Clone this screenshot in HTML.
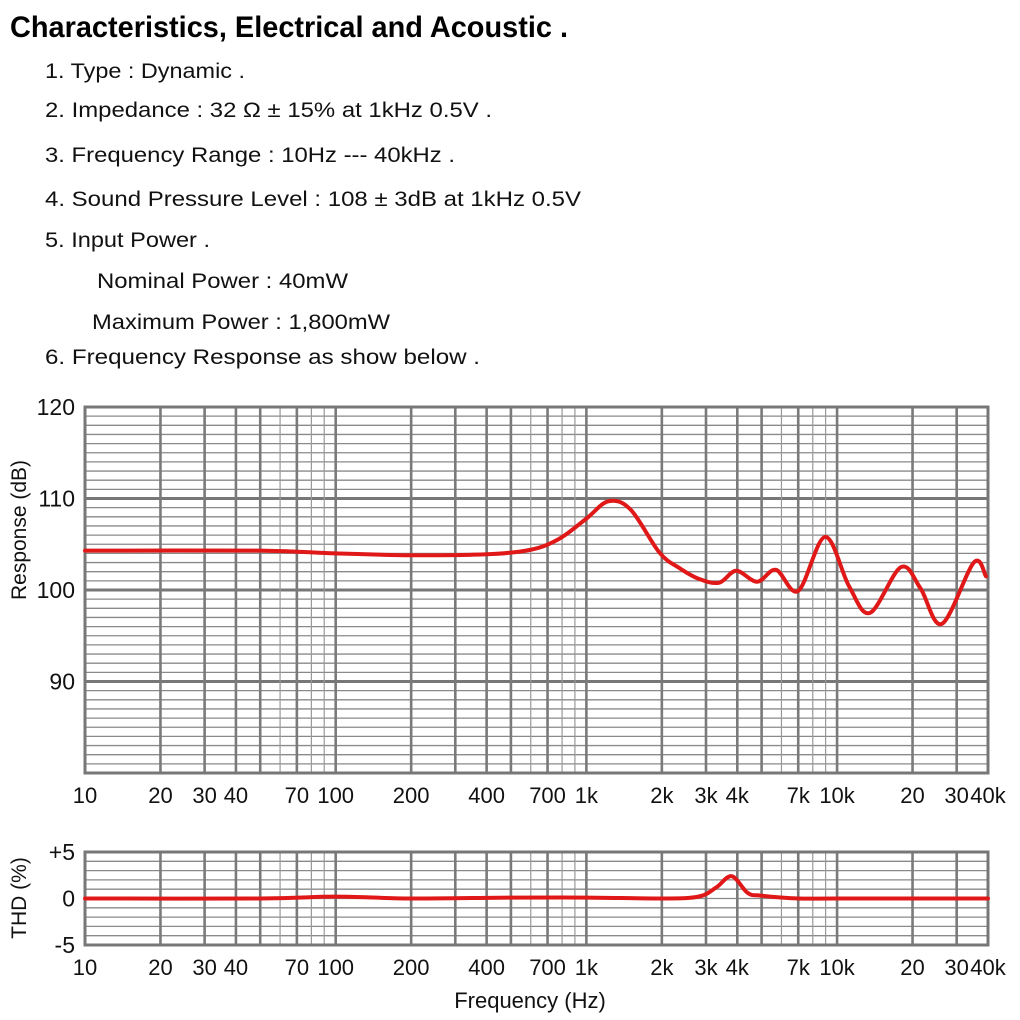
<!DOCTYPE html>
<html><head><meta charset="utf-8"><style>
body{margin:0;background:#fff;width:1020px;height:1020px;overflow:hidden;font-family:"Liberation Sans",sans-serif}
svg{position:absolute;left:0;top:0}
</style></head><body>
<svg id="c" width="1020" height="1020" xmlns="http://www.w3.org/2000/svg">
<text x="10" y="37" font-size="30" font-weight="bold" textLength="558" lengthAdjust="spacingAndGlyphs" fill="#000">Characteristics, Electrical and Acoustic .</text>
<g font-size="21" fill="#111">
<text x="45" y="78" textLength="200" lengthAdjust="spacingAndGlyphs">1. Type : Dynamic .</text>
<text x="45" y="117" textLength="447" lengthAdjust="spacingAndGlyphs">2. Impedance :  32 Ω ± 15% at 1kHz 0.5V .</text>
<text x="45" y="162" textLength="410" lengthAdjust="spacingAndGlyphs">3. Frequency Range : 10Hz --- 40kHz .</text>
<text x="45" y="206" textLength="536" lengthAdjust="spacingAndGlyphs">4. Sound Pressure Level :  108 ± 3dB at 1kHz 0.5V</text>
<text x="45" y="247" textLength="165" lengthAdjust="spacingAndGlyphs">5. Input Power .</text>
<text x="97" y="288" textLength="251" lengthAdjust="spacingAndGlyphs">Nominal Power : 40mW</text>
<text x="92" y="329" textLength="298" lengthAdjust="spacingAndGlyphs">Maximum Power : 1,800mW</text>
<text x="45" y="364" textLength="435" lengthAdjust="spacingAndGlyphs">6. Frequency Response as show below .</text>
</g>
<g id="main"></g>
<g id="thd"></g>
</svg>
<script>
const respFreq=[10,50,100,200,400,600,780,1000,1225,1500,1955,2350,2820,3390,3960,4800,5710,7000,8960,11170,13530,17980,21500,26200,35100,39260];
const respDb=[104.3,104.3,104.0,103.8,103.9,104.4,105.6,107.8,109.7,108.8,104.1,102.4,101.2,100.8,102.1,100.9,102.2,99.9,105.8,100.4,97.5,102.5,100.2,96.3,103.0,101.5];
const thdFreq=[10,50,100,200,500,1000,2000,2800,3300,3800,4400,5000,7000,10000,40000];
const thdPct=[0,0,0.2,0,0.1,0.1,0,0.2,1.2,2.4,0.6,0.3,0,0,0];
const xTickVals=[10,20,30,40,70,100,200,400,700,1000,2000,3000,4000,7000,10000,20000,30000,40000];
const xTickLabels=["10","20","30","40","70","100","200","400","700","1k","2k","3k","4k","7k","10k","20","30","40k"];
const respTicks=[120,110,100,90];
const thdTicks=[5,0,-5];
const thdTickLabels=["+5","0","-5"];

const NS="http://www.w3.org/2000/svg";
const X0=85,X1=988;
function xs(f){return X0+(Math.log10(f)-1)/(Math.log10(40000)-1)*(X1-X0);}
function mk(p,tag,a){const e=document.createElementNS(NS,tag);for(const k in a)e.setAttribute(k,a[k]);p.appendChild(e);return e;}
function smooth(pts){let d="M"+pts[0][0]+","+pts[0][1];for(let i=0;i<pts.length-1;i++){const p0=pts[i-1]||pts[i],p1=pts[i],p2=pts[i+1],p3=pts[i+2]||p2;
const c1=[p1[0]+(p2[0]-p0[0])/6,p1[1]+(p2[1]-p0[1])/6],c2=[p2[0]-(p3[0]-p1[0])/6,p2[1]-(p3[1]-p1[1])/6];
d+=" C"+c1+" "+c2+" "+p2;}return d;}
function chart(g,yT,yB,vmin,vmax,step,ticks,labels,fr,vals,ytitle,yTitleY,name){
  const ys=v=>yB-(v-vmin)/(vmax-vmin)*(yB-yT);
  for(let v=vmin;v<=vmax+1e-9;v+=step){const major=Math.abs(Math.round(v/10)*10-v)<1e-6&&name==="resp";
    const l=mk(g,"line",{x1:X0,x2:X1,y1:ys(v),y2:ys(v),stroke:major?"#777":"#8a8a8a","stroke-width":major?3:1.3});
    
    }
  for(let dec=10;dec<=10000;dec*=10){for(let m=1;m<10;m++){const f=dec*m;if(f>40000)break;
    const bold=[1,2,3,4,5,7].includes(m);
    const l=mk(g,"line",{x1:xs(f),x2:xs(f),y1:yT,y2:yB,stroke:bold?"#7a7a7a":"#999","stroke-width":bold?2.6:1.2});
    
    }}
  const r=mk(g,"rect",{x:X0,y:yT,width:X1-X0,height:yB-yT,fill:"none",stroke:"#777","stroke-width":3});
  
  
  ticks.forEach((t,i)=>{const e=mk(g,"text",{x:X0-10,y:ys(t)+8,"text-anchor":"end","font-size":23,fill:"#111"});e.textContent=labels[i];
    
    });
  xTickVals.forEach((f,i)=>{const e=mk(g,"text",{x:xs(f),y:yB+30,"text-anchor":"middle","font-size":22,fill:"#111"});e.textContent=xTickLabels[i];
    
    });
  const yt=mk(g,"text",{x:26,y:yTitleY,transform:`rotate(-90 26 ${yTitleY})`,"text-anchor":"middle","font-size":21,fill:"#111"});yt.textContent=ytitle;
  
  
  const pts=fr.map((f,i)=>[+xs(f).toFixed(2),+ys(vals[i]).toFixed(2)]);
  const p=mk(g,"path",{d:smooth(pts),fill:"none",stroke:"#e01818","stroke-width":4,"stroke-linejoin":"round","stroke-linecap":"round"});
  
  
}
chart(document.getElementById("main"),407,773,80,120,1,respTicks,respTicks.map(String),respFreq,respDb,"Response (dB)",530,"resp");
chart(document.getElementById("thd"),852,945,-5,5,1,thdTicks,thdTickLabels,thdFreq,thdPct,"THD (%)",898,"thd");
const xt=mk(document.getElementById("thd"),"text",{x:530,y:1008,"text-anchor":"middle","font-size":22,fill:"#111"});xt.textContent="Frequency (Hz)";


</script>
</body></html>
